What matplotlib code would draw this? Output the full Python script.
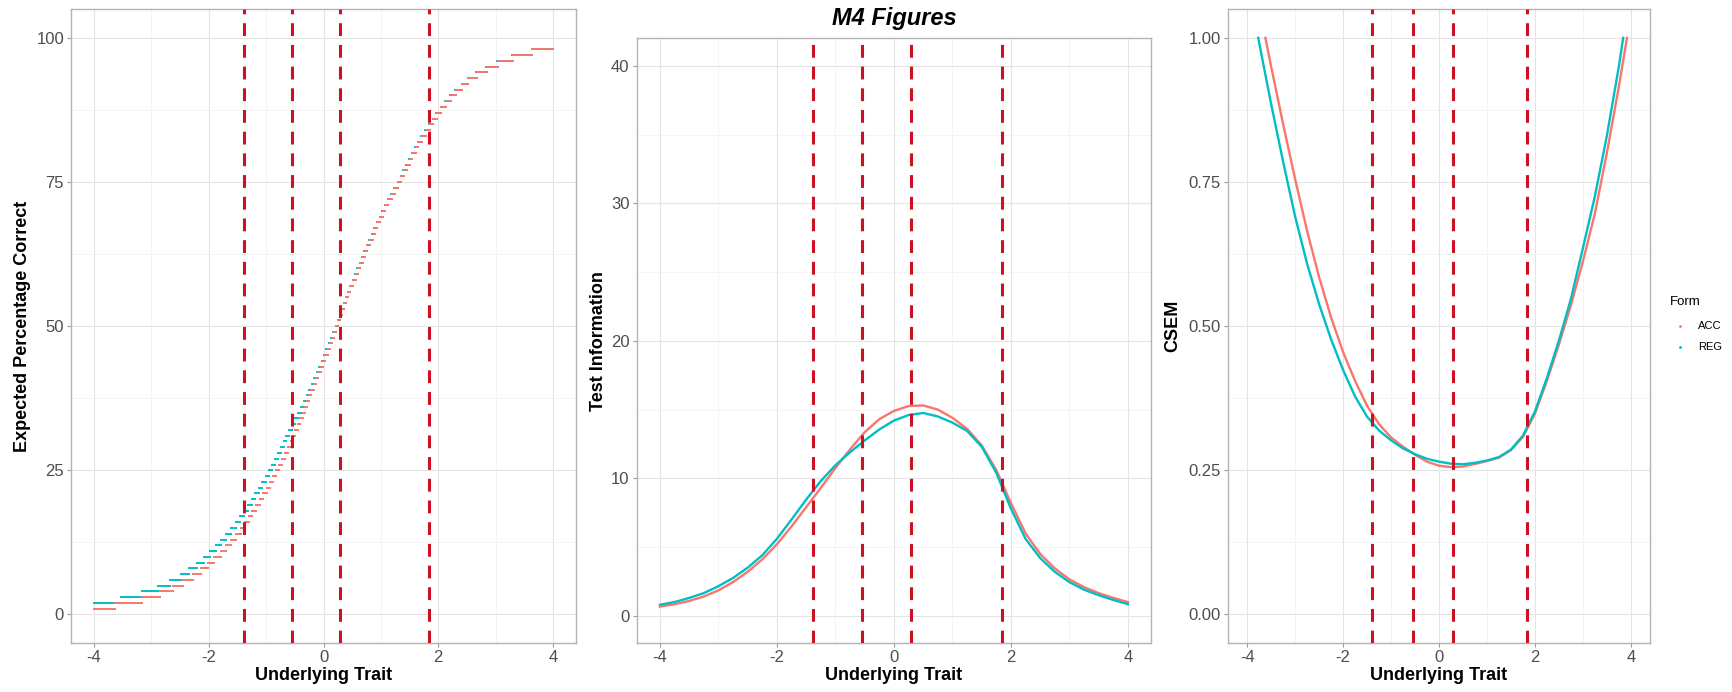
import matplotlib
matplotlib.use("Agg")
import matplotlib.pyplot as plt
from matplotlib.lines import Line2D
from matplotlib.ticker import MultipleLocator, FormatStrFormatter

plt.rcParams['font.family'] = ['Liberation Sans', 'DejaVu Sans']
plt.rcParams['axes.unicode_minus'] = False

forms = ["ACC", "REG"]
form_colors = {"ACC": "#F8766D", "REG": "#00BFC4"}

# cut scores on the trait scale
cut_points = [-1.39, -0.55, 0.29, 1.84]

# expected percentage correct: each level and the trait value where it starts
acc_pct_levels = list(range(1, 99))
acc_pct_start = [-4.00, -3.63, -3.17, -2.85, -2.63, -2.44, -2.28, -2.14, -2.01, -1.91,
                 -1.79, -1.70, -1.61, -1.53, -1.44, -1.37, -1.30, -1.24, -1.17, -1.115,
                 -1.05, -0.99, -0.935, -0.88, -0.825, -0.77, -0.72, -0.675, -0.625, -0.575,
                 -0.53, -0.49, -0.45, -0.405, -0.365, -0.325, -0.285, -0.245, -0.21, -0.17,
                 -0.13, -0.09, -0.05, -0.01, 0.03, 0.07, 0.105, 0.14, 0.18, 0.22,
                 0.26, 0.29, 0.325, 0.36, 0.39, 0.43, 0.47, 0.52, 0.56, 0.60,
                 0.64, 0.68, 0.72, 0.76, 0.81, 0.855, 0.895, 0.94, 0.99, 1.035,
                 1.08, 1.13, 1.19, 1.245, 1.305, 1.355, 1.40, 1.45, 1.50, 1.55,
                 1.605, 1.655, 1.715, 1.78, 1.85, 1.915, 1.975, 2.055, 2.135, 2.22,
                 2.305, 2.415, 2.525, 2.67, 2.85, 3.035, 3.295, 3.64]
reg_pct_levels = list(range(2, 99))
reg_pct_start = [-4.00, -3.53, -3.16, -2.88, -2.67, -2.49, -2.34, -2.21, -2.09,
                 -1.98, -1.88, -1.78, -1.70, -1.61, -1.53, -1.45, -1.39, -1.32, -1.25,
                 -1.19, -1.13, -1.07, -1.005, -0.95, -0.895, -0.84, -0.79, -0.74, -0.69,
                 -0.645, -0.595, -0.545, -0.495, -0.445, -0.395, -0.345, -0.295, -0.25, -0.205,
                 -0.16, -0.115, -0.07, -0.03, 0.01, 0.05, 0.09, 0.13, 0.17, 0.21,
                 0.25, 0.285, 0.32, 0.355, 0.385, 0.425, 0.465, 0.51, 0.55, 0.59,
                 0.63, 0.67, 0.71, 0.75, 0.80, 0.845, 0.885, 0.93, 0.98, 1.025,
                 1.07, 1.12, 1.18, 1.235, 1.295, 1.345, 1.39, 1.44, 1.49, 1.54,
                 1.595, 1.645, 1.705, 1.77, 1.84, 1.905, 1.965, 2.045, 2.125, 2.21,
                 2.295, 2.405, 2.515, 2.66, 2.84, 3.025, 3.285, 3.63]
trait_max = 4.0

# test information
info_theta = [-4.0, -3.75, -3.5, -3.25, -3.0, -2.75, -2.5, -2.25, -2.0, -1.75, -1.5,
              -1.25, -1.0, -0.75, -0.5, -0.25, 0.0, 0.25, 0.5, 0.75, 1.0, 1.25,
              1.5, 1.75, 2.0, 2.25, 2.5, 2.75, 3.0, 3.25, 3.5, 3.75, 4.0]
acc_info = [0.67, 0.84, 1.08, 1.4, 1.85, 2.45, 3.2, 4.1, 5.2, 6.5, 7.9,
            9.3, 10.75, 12.1, 13.35, 14.3, 14.9, 15.25, 15.3, 15.0, 14.4, 13.6,
            12.4, 10.6, 8.2, 6.0, 4.5, 3.45, 2.65, 2.08, 1.65, 1.3, 1.0]
reg_info = [0.8, 1.0, 1.3, 1.65, 2.15, 2.75, 3.5, 4.4, 5.6, 7.0, 8.45,
            9.8, 10.95, 11.9, 12.75, 13.55, 14.2, 14.6, 14.75, 14.5, 14.05, 13.45,
            12.3, 10.4, 7.8, 5.6, 4.2, 3.2, 2.45, 1.9, 1.5, 1.15, 0.85]

# conditional SEM (only the part inside 0..1 is kept)
acc_csem_theta = [-3.62, -3.5, -3.25, -3.0, -2.75, -2.5, -2.25, -2.0, -1.75, -1.5, -1.25,
                  -1.0, -0.75, -0.5, -0.25, 0.0, 0.25, 0.5, 0.75, 1.0, 1.25, 1.5,
                  1.75, 2.0, 2.25, 2.5, 2.75, 3.0, 3.25, 3.5, 3.75, 3.92]
acc_csem = [1.0, 0.95, 0.85, 0.755, 0.665, 0.585, 0.515, 0.455, 0.405, 0.362, 0.33,
            0.307, 0.291, 0.277, 0.265, 0.258, 0.2555, 0.2565, 0.261, 0.266, 0.272, 0.285,
            0.308, 0.348, 0.405, 0.468, 0.536, 0.612, 0.695, 0.80, 0.915, 1.0]
reg_csem_theta = [-3.77, -3.5, -3.25, -3.0, -2.75, -2.5, -2.25, -2.0, -1.75, -1.5, -1.25,
                  -1.0, -0.75, -0.5, -0.25, 0.0, 0.25, 0.5, 0.75, 1.0, 1.25, 1.5,
                  1.75, 2.0, 2.25, 2.5, 2.75, 3.0, 3.25, 3.5, 3.75, 3.84]
reg_csem = [1.0, 0.885, 0.785, 0.69, 0.608, 0.538, 0.477, 0.424, 0.378, 0.343, 0.319,
            0.302, 0.288, 0.278, 0.27, 0.265, 0.2615, 0.2605, 0.263, 0.267, 0.273, 0.286,
            0.31, 0.352, 0.41, 0.475, 0.547, 0.635, 0.725, 0.83, 0.95, 1.0]

W, H = 1732, 692
fig = plt.figure(figsize=(W / 100, H / 100), dpi=100)


def box(x0, top, x1, bottom=643.3):
    return [x0 / W, 1 - bottom / H, (x1 - x0) / W, (bottom - top) / H]


ax1 = fig.add_axes(box(71, 9, 576))
ax2 = fig.add_axes(box(636.5, 38.3, 1151.3))
ax3 = fig.add_axes(box(1228, 9, 1650))


def style(ax, ylim, ymajor, yminor):
    ax.set_xlim(-4.4, 4.4)
    ax.set_ylim(*ylim)
    ax.xaxis.set_major_locator(MultipleLocator(2))
    ax.xaxis.set_minor_locator(MultipleLocator(1))
    ax.yaxis.set_major_locator(MultipleLocator(ymajor))
    ax.yaxis.set_minor_locator(MultipleLocator(yminor))
    ax.set_axisbelow(True)
    ax.grid(which='major', color='#E4E4E4', linewidth=0.8)
    ax.grid(which='minor', color='#F0F0F0', linewidth=0.5)
    for s in ax.spines.values():
        s.set_color('#B3B3B3')
        s.set_linewidth(1.0)
    ax.tick_params(which='major', length=3, width=0.8, color='#9A9A9A',
                   labelsize=12, labelcolor='#4D4D4D', pad=2)
    ax.tick_params(which='minor', length=0)
    ax.set_xlabel("Underlying Trait", fontsize=13, fontweight='bold', labelpad=1)


style(ax1, (-5, 105), 25, 12.5)
style(ax2, (-2, 42), 10, 5)
style(ax3, (-0.05, 1.05), 0.25, 0.125)
ax3.yaxis.set_major_formatter(FormatStrFormatter('%.2f'))

# expected percentage correct as steps
acc_pct_end = acc_pct_start[1:] + [trait_max]
reg_pct_end = reg_pct_start[1:] + [trait_max]
steps_reg = ax1.hlines(reg_pct_levels, reg_pct_start, reg_pct_end,
                       colors=form_colors["REG"], linewidth=1.4)
steps_acc = ax1.hlines(acc_pct_levels, acc_pct_start, acc_pct_end,
                       colors=form_colors["ACC"], linewidth=1.4)
steps_reg.set_capstyle('projecting')
steps_acc.set_capstyle('projecting')
ax1.set_ylabel("Expected Percentage Correct", fontsize=13, fontweight='bold', labelpad=4)

ax2.plot(info_theta, acc_info, color=form_colors["ACC"], linewidth=1.7)
ax2.plot(info_theta, reg_info, color=form_colors["REG"], linewidth=1.7)
ax2.set_ylabel("Test Information", fontsize=13, fontweight='bold', labelpad=3)

ax3.plot(acc_csem_theta, acc_csem, color=form_colors["ACC"], linewidth=1.7)
ax3.plot(reg_csem_theta, reg_csem, color=form_colors["REG"], linewidth=1.7)
ax3.set_ylabel("CSEM", fontsize=13, fontweight='bold', labelpad=5)

for ax in (ax1, ax2, ax3):
    for c in cut_points:
        ax.axvline(c, color='#CC1122', linewidth=2.2, linestyle=(0, (4.2, 2.9)), zorder=5)

fig.text(894 / W, 1 - 18.3 / H, "M4 Figures", ha='center', va='center',
         fontsize=17, fontweight='bold', fontstyle='italic')

# legend
fig.text(1670 / W, 1 - 302 / H, "Form", ha='left', va='center', fontsize=9.5)
for i, f in enumerate(forms):
    y = 1 - (326 + 21 * i) / H
    fig.add_artist(Line2D([1680 / W], [y], transform=fig.transFigure, marker='o',
                          markersize=1.0, color=form_colors[f], linestyle='none'))
    fig.text(1698 / W, y, f, ha='left', va='center', fontsize=8)

fig.savefig("out.png", dpi=100)
